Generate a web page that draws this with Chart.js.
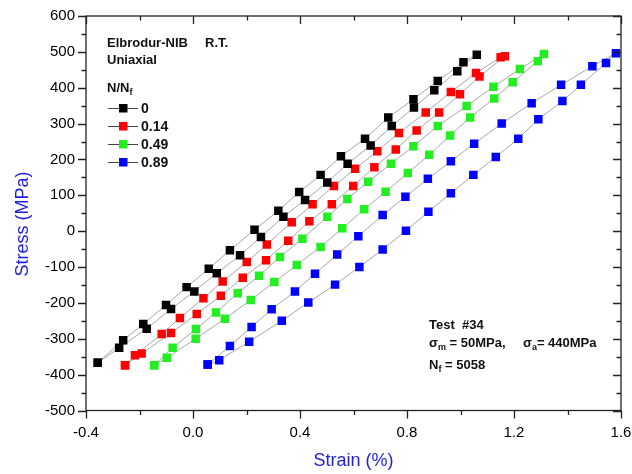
<!DOCTYPE html>
<html>
<head>
<meta charset="utf-8">
<script src="https://cdn.jsdelivr.net/npm/chart.js@4.4.1/dist/chart.umd.min.js"></script>
<style>
body { margin: 0; background: #fff; }
canvas { display: block; }
</style>
</head>
<body>
<canvas id="loops" width="632" height="474"></canvas>
<script>
const FONT = '"Liberation Sans", Arial, sans-serif'

// N/Nf of each recorded loop
const cycleLabels = ['0', '0.14', '0.49', '0.89']
const markColors = ['#000000', '#ff0000', '#22ee22', '#0000ff']

// N/Nf = 0 : loading branch (min -> max) and unloading branch (max -> min)
const strainLoad0 = [-0.356, -0.276, -0.173, -0.082, 0.005, 0.089, 0.176, 0.254, 0.338, 0.419, 0.502, 0.578, 0.664, 0.743, 0.826, 0.902, 0.988, 1.061]
const stressLoad0 = [-367, -325, -272, -217, -168, -117, -67, -16, 40, 87, 136, 188, 239, 293, 345, 393, 446, 492]
const strainUnload0 = [1.061, 1.011, 0.915, 0.824, 0.730, 0.643, 0.553, 0.477, 0.397, 0.319, 0.230, 0.138, 0.059, -0.024, -0.101, -0.186, -0.261, -0.356]
const stressUnload0 = [492, 471, 419, 368, 317, 258, 209, 157, 109, 57, 4, -53, -105, -156, -206, -259, -304, -367]

// N/Nf = 0.14
const strainLoad1 = [-0.254, -0.192, -0.082, 0.014, 0.104, 0.186, 0.273, 0.356, 0.435, 0.519, 0.599, 0.678, 0.758, 0.836, 0.920, 0.998, 1.071, 1.166]
const stressLoad1 = [-374, -341, -284, -231, -180, -130, -81, -27, 28, 75, 126, 178, 228, 281, 331, 382, 431, 488]
const strainUnload1 = [1.166, 1.150, 1.058, 0.964, 0.870, 0.770, 0.689, 0.606, 0.527, 0.447, 0.369, 0.276, 0.201, 0.111, 0.039, -0.049, -0.117, -0.217, -0.254]
const stressUnload1 = [488, 485, 441, 388, 331, 274, 223, 174, 126, 75, 25, -37, -86, -140, -187, -242, -287, -346, -374]

// N/Nf = 0.49
const strainLoad2 = [-0.145, -0.098, 0.010, 0.119, 0.216, 0.304, 0.388, 0.477, 0.558, 0.640, 0.720, 0.803, 0.883, 0.961, 1.036, 1.126, 1.195, 1.289, 1.312]
const stressLoad2 = [-374, -353, -300, -244, -192, -142, -94, -44, 8, 61, 110, 162, 213, 267, 317, 370, 415, 474, 494]
const strainUnload2 = [1.312, 1.222, 1.123, 1.023, 0.915, 0.824, 0.740, 0.655, 0.577, 0.502, 0.409, 0.325, 0.247, 0.167, 0.086, 0.011, -0.076, -0.145]
const stressUnload2 = [494, 452, 403, 349, 293, 237, 188, 138, 90, 40, -21, -72, -124, -173, -227, -273, -325, -374]

// N/Nf = 0.89
const strainLoad3 = [0.055, 0.098, 0.210, 0.332, 0.431, 0.531, 0.622, 0.709, 0.796, 0.880, 0.964, 1.048, 1.132, 1.216, 1.291, 1.381, 1.450, 1.544, 1.581]
const stressLoad3 = [-372, -360, -308, -250, -199, -149, -100, -51, 1, 54, 106, 157, 207, 258, 312, 363, 408, 469, 496]
const strainUnload3 = [1.581, 1.493, 1.376, 1.266, 1.154, 1.051, 0.964, 0.878, 0.794, 0.709, 0.618, 0.539, 0.456, 0.381, 0.294, 0.219, 0.138, 0.055]
const stressUnload3 = [496, 460, 408, 357, 300, 244, 195, 146, 96, 45, -14, -65, -119, -168, -218, -267, -320, -372]

const loops = [
    [strainLoad0, stressLoad0, strainUnload0, stressUnload0],
    [strainLoad1, stressLoad1, strainUnload1, stressUnload1],
    [strainLoad2, stressLoad2, strainUnload2, stressUnload2],
    [strainLoad3, stressLoad3, strainUnload3, stressUnload3]
]

function loopPoints(strainUp, stressUp, strainDown, stressDown) {
    const pts = []
    for (let i = 0; i < strainUp.length; i++) pts.push({x: strainUp[i], y: stressUp[i]})
    for (let i = 1; i < strainDown.length; i++) pts.push({x: strainDown[i], y: stressDown[i]})
    return pts
}

const datasets = loops.map((l, i) => ({
    label: cycleLabels[i],
    data: loopPoints(l[0], l[1], l[2], l[3]),
    showLine: true,
    borderColor: '#a8a8a8',
    borderWidth: 1,
    tension: 0,
    pointStyle: 'rect',
    pointRadius: 6,
    pointBorderWidth: 0,
    pointBackgroundColor: markColors[i]
}))

// draw a run of text pieces, some as subscripts
function drawRuns(ctx, x, y, runs, size) {
    for (const [txt, sub] of runs) {
        ctx.font = 'bold ' + (sub ? Math.round(size * 0.7) : size) + 'px ' + FONT
        ctx.fillText(txt, x, sub ? y + 3 : y)
        x += ctx.measureText(txt).width
    }
}

const framePlugin = {
    id: 'frame',
    afterDraw(chart) {
        const ctx = chart.ctx
        const xs = chart.scales.x
        const ys = chart.scales.y
        const L = xs.left, R = xs.right, T = ys.top, B = ys.bottom
        ctx.save()
        ctx.strokeStyle = '#222'
        ctx.lineWidth = 1.3
        ctx.strokeRect(L, T, R - L, B - T)

        ctx.beginPath()
        // x ticks every 0.2, labelled ones longer
        for (let k = 0; k <= 10; k++) {
            const px = Math.round(xs.getPixelForValue(-0.4 + k * 0.2)) + 0.5
            const len = k % 2 === 0 ? 8 : 4.5
            ctx.moveTo(px, B); ctx.lineTo(px, B + len)
            ctx.moveTo(px, T); ctx.lineTo(px, T + len)
        }
        // y ticks every 50 MPa
        for (let k = 0; k <= 22; k++) {
            const py = Math.round(ys.getPixelForValue(-500 + k * 50)) + 0.5
            const len = k % 2 === 0 ? 8 : 4.5
            ctx.moveTo(L, py); ctx.lineTo(L - len, py)
            ctx.moveTo(R, py); ctx.lineTo(R - len, py)
        }
        ctx.stroke()

        // axis titles
        ctx.fillStyle = '#1e1ee0'
        ctx.font = '18px ' + FONT
        ctx.textAlign = 'center'
        ctx.textBaseline = 'middle'
        ctx.fillText('Strain (%)', (L + R) / 2, 461)
        ctx.save()
        ctx.translate(23, 224)
        ctx.rotate(-Math.PI / 2)
        ctx.fillText('Stress (MPa)', 0, 0)
        ctx.restore()

        // header and legend
        ctx.fillStyle = '#111'
        ctx.textAlign = 'left'
        ctx.textBaseline = 'alphabetic'
        drawRuns(ctx, 107, 47, [['Elbrodur-NIB']], 13)
        drawRuns(ctx, 205, 47, [['R.T.']], 13)
        drawRuns(ctx, 107, 64, [['Uniaxial']], 13)
        drawRuns(ctx, 107, 92, [['N/N'], ['f', true]], 13)

        const rowY = [108, 126, 144, 162]
        chart.data.datasets.forEach((ds, i) => {
            const y = rowY[i]
            ctx.strokeStyle = '#444'
            ctx.lineWidth = 1
            ctx.beginPath()
            ctx.moveTo(108, y + 0.5); ctx.lineTo(138, y + 0.5)
            ctx.stroke()
            ctx.fillStyle = ds.pointBackgroundColor
            ctx.fillRect(119, y - 4, 8.5, 8.5)
            ctx.fillStyle = '#111'
            ctx.textBaseline = 'middle'
            ctx.font = 'bold 14px ' + FONT
            ctx.fillText(ds.label, 141, y + 1)
        })

        // test conditions
        ctx.textBaseline = 'alphabetic'
        drawRuns(ctx, 429, 329, [['Test  #34']], 13)
        drawRuns(ctx, 429, 347, [['\u03c3'], ['m', true], [' = 50MPa,']], 13)
        drawRuns(ctx, 523, 347, [['\u03c3'], ['a', true], ['= 440MPa']], 13)
        drawRuns(ctx, 429, 369, [['N'], ['f', true], [' = 5058']], 13)
        ctx.restore()
    }
}

function fmtStrain(v) {
    return Math.abs(v) < 1e-9 ? '0.0' : v.toFixed(1)
}

new Chart(document.getElementById('loops'), {
    type: 'scatter',
    data: { datasets: datasets },
    options: {
        responsive: false,
        animation: false,
        layout: { autoPadding: false, padding: { top: 16, right: 11, left: 0, bottom: 0 } },
        plugins: { legend: { display: false }, tooltip: { enabled: false } },
        scales: {
            x: {
                type: 'linear', min: -0.4, max: 1.6,
                grid: { display: false }, border: { display: false },
                ticks: { stepSize: 0.4, padding: 5, color: '#000', font: { family: FONT, size: 15 }, callback: fmtStrain },
                afterFit(scale) {
                    scale.height = 63.5
                    scale.paddingLeft = 0
                    scale.paddingRight = 0
                }
            },
            y: {
                type: 'linear', min: -500, max: 600,
                grid: { display: false }, border: { display: false },
                ticks: { stepSize: 100, padding: 3, color: '#000', font: { family: FONT, size: 15 } },
                afterFit(scale) {
                    scale.width = 86
                    scale.paddingTop = 0
                    scale.paddingBottom = 0
                }
            }
        }
    },
    plugins: [framePlugin]
})
</script>
</body>
</html>
